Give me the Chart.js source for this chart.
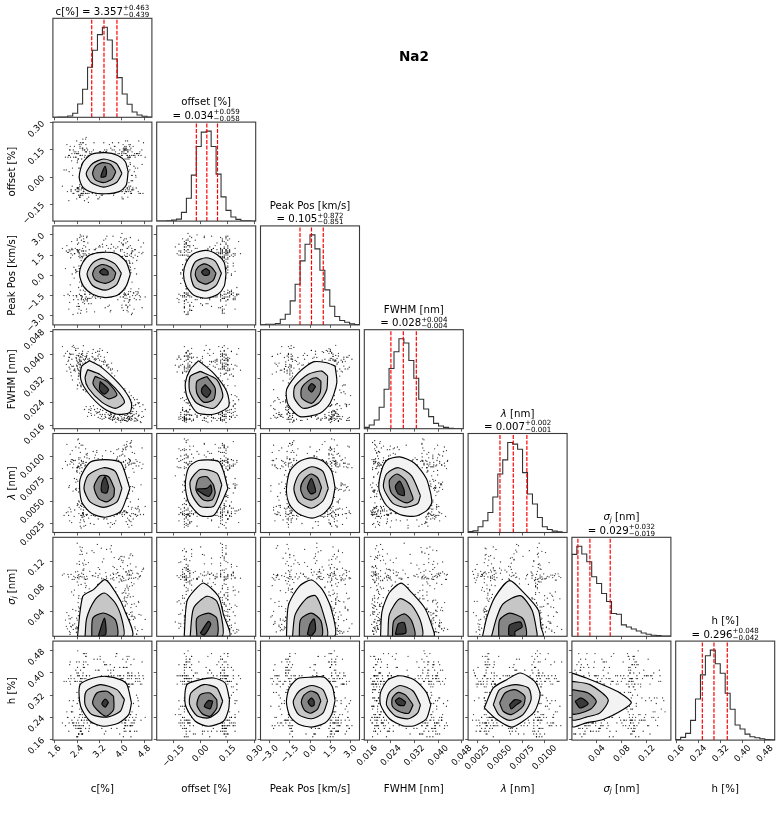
<!DOCTYPE html>
<html>
<head>
<meta charset="utf-8">
<style>
  body { margin: 0; background: #fff; }
  canvas { position: absolute; left: 0; top: 0; }
</style>
<script src="https://cdn.jsdelivr.net/npm/chart.js@4"></script>
</head>
<body>
<script>
// axis limits, ticks
const cRange = [1.53, 5.07], offsetRange = [-0.243, 0.304], peakRange = [-3.67, 3.66];
const fwhmRange = [0.015, 0.0485], lamRange = [0.0015, 0.0125], sigmaRange = [0, 0.1584], hRange = [0.158, 0.515];
const cTicks = [1.6, 2.4, 3.2, 4.0, 4.8], cTickLabels = ['1.6', '2.4', '3.2', '4.0', '4.8'];
const offsetTicks = [-0.15, 0, 0.15, 0.30], offsetTickLabels = ['−0.15', '0.00', '0.15', '0.30'];
const peakTicks = [-3, -1.5, 0, 1.5, 3], peakTickLabels = ['−3.0', '−1.5', '0.0', '1.5', '3.0'];
const fwhmTicks = [0.016, 0.024, 0.032, 0.040, 0.048], fwhmTickLabels = ['0.016', '0.024', '0.032', '0.040', '0.048'];
const lamTicks = [0.0025, 0.005, 0.0075, 0.01], lamTickLabels = ['0.0025', '0.0050', '0.0075', '0.0100'];
const sigmaTicks = [0.04, 0.08, 0.12], sigmaTickLabels = ['0.04', '0.08', '0.12'];
const hTicks = [0.16, 0.24, 0.32, 0.40, 0.48], hTickLabels = ['0.16', '0.24', '0.32', '0.40', '0.48'];

// 20 bin histograms
const cHist = [0, 1, 1, 4, 12, 40, 84, 150, 201, 248, 270, 232, 175, 119, 70, 39, 16, 7, 3, 1];
const offsetHist = [0, 0, 1, 3, 6, 26, 68, 137, 222, 265, 268, 222, 140, 72, 32, 12, 5, 1, 1, 0];
const peakHist = [0, 2, 2, 4, 17, 32, 72, 122, 192, 242, 270, 228, 164, 105, 56, 25, 13, 8, 3, 1];
const fwhmHist = [4, 11, 26, 64, 118, 180, 230, 269, 256, 204, 151, 88, 59, 36, 16, 8, 4, 1, 0, 0];
const lamHist = [3, 5, 17, 35, 60, 106, 175, 217, 269, 264, 249, 179, 115, 85, 45, 17, 9, 4, 2, 0];
const sigmaHist = [245, 269, 246, 223, 178, 158, 128, 104, 68, 66, 34, 28, 22, 16, 10, 6, 3, 2, 1, 1];
const hHist = [2, 8, 20, 59, 123, 195, 252, 269, 228, 200, 140, 92, 45, 33, 18, 10, 7, 4, 2, 1];

// 16/50/84 percent lines
const cQuant = [2.918, 3.357, 3.82], offsetQuant = [-0.024, 0.034, 0.093], peakQuant = [-0.746, 0.105, 0.977];
const fwhmQuant = [0.024, 0.0282, 0.0326], lamQuant = [0.00504, 0.00652, 0.00803];
const sigmaQuant = [0.0096, 0.0288, 0.0613], hQuant = [0.254, 0.296, 0.344];

// titles
const cName = [['c[%]', '']], offsetName = [['offset [%]', '']], peakName = [['Peak Pos [km/s]', '']], fwhmName = [['FWHM [nm]', '']];
const lamName = [['λ', 'italic'], [' [nm]', '']], sigmaName = [['σ', 'italic'], ['j', 'sub'], [' [nm]', '']], hName = [['h [%]', '']];
const cTitle = ['3.357', '+0.463', '−0.439'], offsetTitle = ['0.034', '+0.059', '−0.058'], peakTitle = ['0.105', '+0.872', '−0.851'];
const fwhmTitle = ['0.028', '+0.004', '−0.004'], lamTitle = ['0.007', '+0.002', '−0.001'], sigmaTitle = ['0.029', '+0.032', '−0.019'], hTitle = ['0.296', '+0.048', '−0.042'];

// stray samples outside the contours, one column per parameter
const cSamples = [2.31,4.42,3.05,2.12,3.88,4.61,2.67,3.42,4.18,1.98,3.71,2.44,4.33,3.12,2.58,4.02,2.21,3.55,4.71,2.76,
  2.05,3.94,2.92,4.27,3.36,2.39,4.49,3.18,2.63,4.11,3.61,2.28,4.56,2.84,3.79,2.16,4.24,3.27,2.52,4.38,
  2.71,4.07,3.48,1.87,4.52,3.02,2.47,3.83,4.29,2.34,4.15,2.96,2.19,3.66,4.44,2.55,3.21,4.83,2.41,3.75,
  2.88,4.35,2.26,3.97,3.09,4.64,2.61,3.51,2.07,4.21,3.33,2.49,4.09,4.54,2.79,3.69,2.14,4.31,3.15,2.36,
  4.47,2.69,3.86,2.01,4.13,3.24,2.57,4.68,2.98,3.59,2.43,3.91,4.26,2.82,3.44,2.23,4.58,3.01,4.04,2.65,
  3.77,2.18,4.39,3.29,2.53,4.75,2.89,3.63,2.33,4.17,2.94,4.46,2.72,3.85,2.11,4.23,3.39,2.59,4.62,3.11,
  4.01,2.37,3.53,4.34,2.77,1.93,3.72,4.12,2.46,3.19,2.64,4.28,3.07,2.29,4.51,3.58,2.85,4.19,2.17,3.81,
  3.46,2.56,4.41,2.91,3.99,2.24,4.66,3.23,2.73,4.06,2.09,3.74,4.22,2.62,3.31,4.57,2.42,3.89,3.04,4.36,
  4.48,3.14,2.35,4.03,2.81,3.64,2.15,4.16,2.68,3.52,2.54,4.32,3.41,2.27,4.77,2.97,3.78,2.45,4.25,3.17,
  3.92,2.75,4.08,3.26,2.03,4.43,2.87,3.68,4.59,2.38,2.22,3.57,4.14,2.66,3.84,4.53,3.06,2.51,4.37,2.93,
  4.2,3.37,2.6,4.72,2.3,3.96,2.83,3.49,2.13,4.1,2.48,4.3,3.22,2.74,4.45,3.62,2.2,4.05,3.13,2.9,
  3.82,2.4,4.6,3.0,2.25,4.18,3.7,2.55,4.4,3.3,2.78,4.0,2.35,3.95,4.5,2.62,3.45,4.25,2.1,3.6,
  2.55,4.12,3.35,2.48,4.25,3.05,2.62,4.05,3.6,2.4,4.18,2.7,3.2,4.3,2.52,3.75,4.08,2.6,3.45,2.45,
  2.75,4.2,2.5,3.9,3.1,4.35,2.58,4.02,2.42,3.55,4.1,2.65,3.7,2.47,4.28,3.3,2.56,4.15,2.68,4.0,
  3.15,2.44,4.22,2.72,3.85,4.32,2.5,3.5,4.06,2.6,2.38,4.14,3.0,4.38,2.66,3.65,2.54,4.24,3.25,2.46,
  4.04,2.57,3.8,2.43,4.16,2.74,3.4,4.27,2.51,3.95,2.69,3.6,4.2,2.49,3.12,4.1,2.59,4.34,2.77,3.72,
  4.26,2.41,3.28,4.01,2.63,3.55,4.19,2.53,4.09,2.7,3.02,4.31,2.61,3.88,2.45,4.11,3.38,2.55,4.23,2.8,
  2.5,4.03,3.68,2.73,4.29,2.42,3.18,4.13,2.64,3.82,4.21,2.58,3.42,4.07,2.47,3.78,2.71,4.33,2.52,3.08,
  2.62,3.92,4.17,2.44,3.35,4.25,2.56,3.62,4.05,2.67,3.73,2.49,4.3,2.76,3.22,4.0,2.6,4.2,2.4,3.5,
  2.46,4.15,2.83,3.98,4.36,2.54,3.58,2.68,4.12,3.2,4.08,2.72,3.46,2.39,4.27,3.1,2.59,4.18,3.66,2.5];
const offsetSamples = [.05,-.08,.14,.02,-.11,.09,.17,-.04,.12,.03,-.09,.16,.01,.11,.19,-.06,.07,.13,-.03,-.12,
  .1,-.02,.15,-.1,.18,.06,-.07,.0,.12,.2,-.05,.08,.16,-.13,.04,.13,-.09,.19,.01,-.06,
  .14,.03,-.1,.07,.17,-.04,.11,-.08,.15,.02,-.11,.18,.06,-.02,.13,-.07,.09,.16,-.12,.05,
  .12,-.06,.2,.01,-.09,.15,.04,-.03,.17,-.1,.08,.14,-.07,.11,.0,.19,-.05,.1,-.13,.16,
  -.04,.13,.06,-.11,.18,.03,-.08,.15,.09,-.06,.12,.21,-.02,.07,-.1,.17,.0,-.09,.14,.05,
  -.12,.11,.16,-.05,.08,-.07,.19,.02,.13,-.03,.15,.06,-.1,.18,.04,-.08,.1,.17,-.01,-.11,
  .09,-.06,.14,.22,.01,-.09,.12,.05,-.04,.16,-.12,.07,.19,-.02,.11,.15,-.07,.03,.13,-.1,
  .18,.06,-.05,.1,-.08,.16,.02,.12,-.11,.08,.14,-.03,.2,.05,-.09,.17,-.06,.01,.11,.15,
  -.07,.09,.13,-.12,.04,.18,-.01,-.1,.16,.07,.12,-.05,.03,.19,-.08,.1,.15,-.04,.06,-.14,
  .17,.02,-.09,.14,.08,-.06,.11,.2,-.03,.05,-.11,.16,.01,.13,-.07,.09,.18,-.02,.12,-.1,
  .04,.15,-.08,.1,.19,-.05,.07,.13,-.12,.02,.17,-.04,.11,-.09,.06,.14,.21,-.06,.08,.0,
  -.1,.16,.03,.12,-.07,.18,.05,-.03,.15,-.11,.09,.01,.13,-.08,.17,.06,-.05,.1,.19,-.02,
  .13,-.07,-.08,.12,.03,-.09,.15,.14,-.06,.11,-.05,.14,-.09,.02,.12,-.08,.13,-.07,.15,.04,
  -.08,.11,.14,-.06,-.09,.13,.01,.12,-.07,.15,.12,-.09,.05,.14,-.06,.11,-.08,.13,.04,-.07,
  -.09,.14,.12,-.05,.13,-.08,.0,-.06,.15,.11,.13,-.08,-.07,.12,.03,-.09,.14,.11,-.06,.13,
  -.06,.12,.15,-.08,.02,.14,-.09,.06,.11,-.07,.14,-.05,-.09,.13,.12,-.07,.15,-.08,.01,.11,
  .11,-.09,.13,.04,-.07,.14,-.06,.12,.15,-.08,-.07,.13,.11,-.09,.14,.05,-.08,.12,-.05,.15,
  .14,-.08,-.06,.12,.02,-.09,.13,.11,-.07,.15,-.09,.12,.14,-.06,.03,.11,-.08,.15,.13,-.07,
  .12,.13,-.07,-.09,.15,.04,.11,-.08,-.06,.14,-.08,.11,.02,.14,-.06,-.09,.13,.12,-.07,.05,
  .15,-.06,.12,-.08,.13,.01,-.09,.14,.11,-.07,.12,-.09,.15,.06,-.05,.13,-.08,.11,-.07,.14];
const peakSamples = [1.9,-1.6,.4,2.3,-2.1,.9,-.7,2.7,-1.2,1.5,-2.6,.2,1.8,-1.8,2.4,-.3,1.2,-2.3,.7,2.1,
  -1.1,2.9,-1.9,.5,2.2,-2.5,1.4,-.9,2.6,-1.5,.1,1.7,-2.2,2.5,-.5,1.1,-1.7,3.0,-2.8,.8,
  2.0,-1.3,.3,-2.4,1.6,2.8,-.8,1.3,-2.0,.6,-1.4,2.2,.9,-2.7,1.9,-.2,2.5,-1.6,1.0,-2.1,
  .4,2.7,-1.0,1.6,-2.9,.7,2.1,-1.8,1.3,-.6,2.4,-2.2,.2,1.8,-1.2,2.9,-.4,1.1,-2.5,2.0,
  -1.7,.8,2.6,-2.3,.3,1.5,-1.1,2.3,-.7,1.9,-2.6,1.0,-.1,2.8,-1.5,.6,1.7,-2.0,2.2,-.9,
  1.2,-2.4,.5,2.5,-1.3,2.0,-.6,1.4,-2.8,.9,2.7,-1.9,.1,1.6,-2.2,2.3,-.8,1.1,-1.4,3.1,
  -.4,1.8,-2.7,.7,2.1,-1.0,1.3,-2.3,2.6,.2,-1.6,2.4,-.3,.9,-2.1,1.7,2.9,-1.2,.5,-2.5,
  2.2,-.7,1.5,-1.8,.1,2.8,-2.4,1.0,-1.1,1.9,.6,-2.6,2.5,-.5,1.2,-1.5,2.0,-2.9,.8,1.6,
  -1.9,2.3,.3,-.9,2.7,-2.2,1.4,.7,-1.3,2.1,-2.7,.4,1.8,-.2,2.4,-1.7,1.1,2.6,-2.0,.6,
  1.5,-1.0,2.9,-2.5,.9,1.9,-.6,-1.4,2.2,.2,-2.3,1.3,2.7,-1.1,.5,2.0,-1.8,1.6,-2.8,.8,
  2.5,-.3,1.0,-2.1,1.7,.4,-1.5,2.3,-2.6,1.2,-.8,2.8,.6,-1.9,2.1,-2.4,1.4,.0,2.6,-1.2,
  .7,-2.2,1.9,2.4,-.5,1.1,-2.7,1.6,-1.0,2.2,.3,-1.6,2.9,-2.3,.9,1.5,-.4,2.0,-1.3,.5,
  1.6,-1.3,1.9,-1.5,.2,1.7,-1.4,1.5,-1.7,.5,-1.5,1.8,1.4,-1.2,-1.6,.3,2.0,-1.4,1.6,-1.8,
  1.7,-1.6,.4,1.5,-1.3,1.9,-1.5,-.1,1.8,-1.4,-1.6,.6,1.4,-1.7,1.6,-1.2,2.1,1.5,-.3,-1.5,
  1.8,-1.4,-1.6,2.0,.1,-1.3,1.7,1.5,-1.8,.4,-1.5,1.6,1.9,-1.2,-1.7,1.4,.2,-1.6,1.8,1.5,
  .5,1.7,-1.5,1.4,-1.3,-1.8,1.6,2.0,-1.4,-.2,-1.6,1.9,1.5,-1.4,-1.7,.3,1.8,-1.2,1.6,-1.5,
  1.5,-1.7,.1,1.8,1.4,-1.3,-1.6,2.1,-1.5,.6,1.7,-1.4,-1.8,1.6,.4,1.5,-1.3,1.9,-1.6,-.4,
  -1.4,1.6,1.8,.2,-1.5,1.7,-1.7,-1.3,2.0,1.4,-1.6,.5,1.5,-1.8,1.9,-1.4,1.6,.0,-1.5,1.7,
  1.9,.3,-1.4,1.6,-1.7,-1.5,1.8,.6,1.4,-1.3,1.5,-1.6,2.0,-.2,-1.8,1.7,-1.4,1.6,1.3,-1.5,
  -1.5,1.8,-1.3,1.4,.4,1.9,-1.6,-1.7,1.5,.1,1.7,1.6,-1.4,-1.8,2.1,-1.2,.3,1.5,-1.6,1.8];
const fwhmSamples = [.0352,.0218,.0335,.0391,.0232,.0196,.0318,.0341,.0214,.0405,.0241,.0374,.0262,.0218,.0342,.0198,.0385,.0234,.0188,.0365,
  .0412,.0278,.0358,.0186,.0185,.0362,.0232,.0402,.0281,.0205,.0205,.0348,.0178,.0381,.0289,.0368,.0245,.0192,.0395,.0221,
  .0275,.0252,.0408,.0428,.0208,.0196,.0332,.0182,.0189,.0415,.0265,.0392,.0329,.0352,.0176,.0402,.0421,.0215,.0298,.0203,
  .0212,.0238,.0432,.0191,.0366,.0225,.0282,.0199,.0378,.0184,.0378,.0305,.0178,.0249,.0411,.0226,.0352,.0201,.0188,.0391,
  .0229,.0385,.0182,.0368,.0258,.0395,.0346,.0171,.0228,.0352,.0422,.0211,.0274,.0215,.0205,.0315,.0192,.0385,.0232,.0361,
  .0186,.0402,.0208,.0182,.0378,.0231,.0202,.0372,.0345,.0241,.0405,.0186,.0225,.0265,.0358,.0179,.0198,.0412,.0238,.0362,
  .0178,.0388,.0358,.0235,.0192,.0396,.0195,.0278,.0368,.0412,.0352,.0182,.0208,.0425,.0201,.0182,.0372,.0222,.0341,.0298,
  .0365,.0402,.0255,.0195,.0212,.0361,.0174,.0215,.0394,.0268,.0382,.0329,.0191,.0431,.0212,.0238,.0296,.0178,.0388,.0182,
  .0185,.0396,.0415,.0248,.0205,.0338,.0401,.0176,.0318,.0186,.0292,.0228,.0376,.0362,.0192,.0418,.0172,.0398,.0258,.0205,
  .0258,.0405,.0185,.0362,.0345,.0198,.0225,.0188,.0235,.0382,.0428,.0195,.0268,.0215,.0346,.0182,.0408,.0365,.0192,.0395,
  .0202,.0392,.0358,.0208,.0348,.0172,.0382,.0212,.0405,.0285,.0382,.0215,.0185,.0398,.0248,.0192,.0362,.0181,.0412,.0218,
  .0236,.0378,.0195,.0345,.0402,.0204,.0188,.0338,.0228,.0415,.0385,.0186,.0421,.0262,.0176,.0355,.0212,.0238,.0392,.0199,
  .0378,.0208,.0368,.0345,.0192,.0382,.0335,.0225,.0202,.0285,.0245,.0388,.0208,.0222,.0295,.0198,.0188,.0372,.0365,.0396,
  .0322,.0188,.0391,.0255,.0352,.0202,.0305,.0212,.0352,.0195,.0195,.0358,.0192,.0385,.0232,.0198,.0345,.0262,.0395,.0182,
  .0388,.0328,.0215,.0362,.0188,.0178,.0372,.0355,.0242,.0308,.0365,.0228,.0375,.0195,.0382,.0182,.0298,.0205,.0362,.0348,
  .0205,.0392,.0258,.0318,.0185,.0355,.0192,.0242,.0368,.0178,.0375,.0348,.0198,.0338,.0205,.0232,.0405,.0185,.0342,.0192,
  .0182,.0355,.0378,.0198,.0328,.0185,.0238,.0382,.0178,.0298,.0215,.0248,.0365,.0185,.0338,.0215,.0382,.0312,.0192,.0368,
  .0358,.0255,.0182,.0392,.0202,.0372,.0365,.0178,.0335,.0232,.0228,.0342,.0188,.0205,.0405,.0272,.0352,.0192,.0322,.0385,
  .0385,.0195,.0218,.0348,.0375,.0182,.0362,.0198,.0268,.0332,.0182,.0378,.0235,.0345,.0198,.0212,.0398,.0175,.0362,.0368,
  .0328,.0195,.0388,.0238,.0208,.0352,.0188,.0312,.0252,.0382,.0218,.0372,.0362,.0398,.0186,.0202,.0345,.0228,.0178,.0368];
const lamSamples = [.0042,.0095,.0071,.0108,.0031,.0059,.0102,.0038,.0086,.0048,.0112,.0027,.0066,.0091,.0035,.0105,.0054,.0098,.0029,.0078,
  .0036,.0101,.0062,.0044,.0113,.0082,.0025,.0093,.0052,.0074,.0106,.0033,.0088,.0057,.0099,.0041,.0069,.0022,.0104,.0046,
  .0092,.0056,.0032,.0109,.0075,.0039,.0097,.0063,.0028,.0085,.0049,.0111,.0037,.0079,.0103,.0055,.0026,.0094,.0068,.0034,
  .0107,.0045,.0089,.0024,.0061,.0116,.0043,.0083,.0030,.0100,.0072,.0035,.0110,.0051,.0096,.0040,.0081,.0021,.0065,.0105,
  .0047,.0090,.0033,.0114,.0058,.0101,.0037,.0076,.0026,.0087,.0053,.0108,.0042,.0095,.0029,.0070,.0112,.0036,.0084,.0060,
  .0098,.0031,.0073,.0045,.0106,.0023,.0092,.0056,.0118,.0039,.0080,.0027,.0103,.0064,.0034,.0097,.0050,.0110,.0044,.0077,
  .0030,.0088,.0059,.0102,.0038,.0115,.0067,.0025,.0093,.0048,.0083,.0107,.0035,.0061,.0099,.0043,.0020,.0090,.0054,.0109,
  .0074,.0032,.0096,.0046,.0113,.0057,.0086,.0028,.0104,.0040,.0069,.0094,.0024,.0081,.0052,.0100,.0037,.0117,.0063,.0033,
  .0091,.0047,.0078,.0105,.0029,.0055,.0111,.0041,.0085,.0023,.0098,.0066,.0036,.0108,.0050,.0075,.0031,.0095,.0044,.0089,
  .0026,.0102,.0060,.0034,.0114,.0072,.0042,.0087,.0022,.0097,.0053,.0079,.0106,.0038,.0092,.0028,.0068,.0110,.0045,.0083,
  .0035,.0100,.0056,.0119,.0030,.0076,.0094,.0040,.0107,.0064,.0025,.0088,.0049,.0103,.0033,.0071,.0112,.0037,.0082,.0058,
  .0096,.0027,.0065,.0101,.0043,.0090,.0021,.0077,.0109,.0051,.0039,.0093,.0030,.0084,.0062,.0104,.0046,.0073,.0024,.0098,
  .0040,.0092,.0034,.0067,.0095,.0038,.0089,.0043,.0062,.0094,.0036,.0088,.0091,.0041,.0069,.0033,.0093,.0045,.0086,.0035,
  .0090,.0037,.0064,.0096,.0042,.0087,.0035,.0070,.0092,.0039,.0044,.0095,.0034,.0088,.0061,.0041,.0097,.0036,.0090,.0066,
  .0093,.0039,.0068,.0086,.0033,.0091,.0043,.0035,.0094,.0063,.0037,.0089,.0096,.0040,.0065,.0034,.0092,.0044,.0087,.0071,
  .0088,.0036,.0095,.0042,.0067,.0093,.0034,.0090,.0038,.0060,.0041,.0086,.0035,.0094,.0069,.0039,.0091,.0033,.0097,.0064,
  .0035,.0090,.0062,.0037,.0095,.0043,.0087,.0068,.0034,.0092,.0089,.0040,.0093,.0066,.0036,.0096,.0044,.0088,.0063,.0033,
  .0094,.0038,.0086,.0061,.0034,.0091,.0067,.0042,.0095,.0037,.0065,.0092,.0035,.0089,.0043,.0070,.0093,.0036,.0040,.0087,
  .0037,.0062,.0095,.0041,.0088,.0034,.0092,.0069,.0036,.0090,.0043,.0096,.0064,.0033,.0089,.0038,.0091,.0060,.0094,.0035,
  .0091,.0044,.0036,.0066,.0093,.0087,.0035,.0095,.0041,.0063,.0034,.0090,.0068,.0094,.0039,.0042,.0088,.0061,.0033,.0092];
const sigmaSamples = [.012,.094,.041,.118,.027,.073,.006,.103,.052,.086,.019,.132,.034,.066,.109,.009,.078,.047,.125,.023,
  .097,.015,.061,.141,.038,.084,.004,.112,.056,.029,.091,.017,.069,.122,.044,.003,.101,.032,.081,.137,
  .025,.058,.106,.011,.074,.128,.036,.089,.021,.063,.115,.008,.049,.096,.031,.145,.071,.014,.083,.042,
  .107,.026,.054,.134,.018,.079,.099,.005,.064,.119,.037,.088,.013,.048,.111,.024,.139,.068,.033,.092,
  .01,.076,.124,.045,.098,.02,.059,.108,.028,.149,.082,.007,.053,.116,.035,.072,.127,.016,.093,.04,
  .067,.113,.022,.087,.002,.051,.131,.03,.104,.075,.012,.095,.043,.12,.026,.062,.136,.019,.085,.05,
  .11,.033,.077,.009,.102,.046,.143,.024,.07,.117,.015,.09,.038,.129,.057,.004,.083,.105,.028,.065,
  .121,.041,.011,.097,.055,.133,.021,.08,.039,.112,.006,.06,.1,.029,.147,.073,.017,.086,.047,.126,
  .035,.094,.013,.069,.114,.023,.052,.138,.008,.078,.044,.106,.031,.123,.061,.018,.091,.005,.074,.118,
  .027,.056,.101,.042,.13,.014,.084,.036,.108,.066,.01,.142,.048,.089,.022,.071,.115,.032,.096,.003,
  .058,.125,.037,.082,.016,.103,.045,.135,.025,.07,.11,.007,.063,.092,.03,.128,.054,.019,.087,.04,
  .099,.012,.076,.122,.034,.06,.14,.021,.05,.107,.015,.081,.043,.116,.027,.067,.009,.098,.039,.131,
  .02,.093,.05,.008,.097,.035,.014,.102,.062,.026,.09,.011,.098,.044,.005,.095,.03,.018,.104,.057,
  .012,.092,.024,.099,.039,.007,.094,.016,.106,.048,.021,.096,.009,.055,.1,.028,.013,.093,.033,.101,
  .091,.017,.042,.098,.004,.06,.095,.023,.01,.103,.036,.097,.015,.092,.052,.006,.1,.027,.094,.019,
  .047,.105,.011,.09,.031,.096,.008,.025,.099,.065,.092,.014,.058,.101,.022,.094,.003,.038,.097,.012,
  .029,.091,.045,.016,.103,.007,.095,.034,.02,.098,.054,.01,.093,.041,.096,.018,.1,.026,.005,.092,
  .013,.099,.032,.09,.023,.107,.05,.009,.094,.037,.097,.015,.061,.102,.028,.091,.011,.046,.095,.02,
  .096,.006,.04,.093,.017,.1,.025,.056,.092,.012,.035,.098,.021,.091,.048,.008,.104,.03,.016,.094,
  .009,.101,.027,.014,.09,.043,.097,.019,.052,.093,.095,.024,.007,.099,.033,.092,.013,.06,.096,.039];
const hSamples = [.37,.22,.41,.27,.19,.35,.44,.24,.31,.39,.2,.43,.33,.21,.38,.29,.46,.18,.36,.25,
  .42,.31,.2,.39,.26,.45,.23,.34,.4,.17,.28,.37,.21,.47,.32,.19,.41,.25,.36,.22,
  .4,.18,.33,.44,.24,.38,.2,.29,.43,.27,.35,.21,.46,.3,.19,.39,.26,.42,.23,.34,
  .2,.37,.28,.45,.22,.33,.41,.18,.36,.25,.43,.3,.2,.39,.24,.47,.27,.35,.19,.4,
  .32,.23,.44,.21,.38,.26,.42,.17,.34,.29,.46,.2,.37,.25,.41,.31,.19,.36,.43,.22,
  .28,.45,.2,.35,.24,.4,.18,.33,.48,.26,.21,.38,.3,.44,.19,.36,.23,.42,.27,.34,
  .41,.2,.31,.46,.25,.17,.37,.22,.39,.29,.44,.19,.35,.24,.42,.28,.21,.4,.33,.18,
  .26,.38,.47,.2,.34,.23,.43,.3,.19,.37,.25,.41,.21,.36,.45,.27,.18,.39,.32,.22,
  .35,.42,.2,.29,.44,.24,.38,.19,.33,.46,.26,.21,.4,.31,.18,.37,.43,.23,.35,.28,
  .2,.45,.25,.39,.3,.17,.41,.34,.22,.47,.27,.36,.19,.42,.24,.33,.44,.21,.38,.29,
  .43,.18,.32,.4,.23,.46,.26,.2,.37,.31,.42,.25,.19,.35,.45,.22,.39,.28,.17,.41,
  .3,.44,.21,.36,.26,.19,.43,.33,.23,.38,.2,.47,.29,.4,.24,.35,.18,.42,.27,.37,
  .37,.23,.38,.3,.22,.39,.24,.28,.36,.21,.39,.31,.22,.37,.25,.38,.23,.32,.36,.22,
  .24,.37,.29,.39,.21,.33,.38,.23,.27,.36,.37,.22,.31,.39,.24,.36,.23,.3,.38,.21,
  .38,.25,.36,.22,.32,.24,.39,.28,.21,.37,.23,.38,.26,.37,.22,.31,.36,.24,.39,.29,
  .22,.36,.3,.23,.38,.37,.21,.33,.24,.39,.36,.27,.22,.38,.23,.29,.37,.25,.36,.21,
  .39,.24,.31,.37,.22,.28,.38,.23,.36,.26,.21,.39,.32,.24,.37,.22,.3,.36,.38,.23,
  .25,.38,.22,.36,.29,.39,.24,.37,.21,.33,.37,.23,.28,.39,.22,.36,.31,.24,.38,.21,
  .36,.22,.33,.38,.24,.37,.27,.21,.39,.23,.3,.36,.22,.38,.25,.37,.23,.32,.39,.24,
  .21,.37,.29,.23,.38,.26,.36,.22,.39,.31,.38,.24,.36,.21,.3,.37,.23,.28,.22,.39];

// contour rings, outermost to innermost
const cOffsetRings = [
  [[4.22,.03],[4.12,.085],[3.85,.12],[3.4,.135],[2.9,.125],[2.6,.08],[2.47,0],[2.6,-.055],[2.95,-.085],[3.4,-.092],[3.9,-.08],[4.15,-.045]],
  [[4,.02],[3.8,.075],[3.35,.1],[2.95,.075],[2.72,.02],[2.9,-.03],[3.35,-.055],[3.8,-.03]],
  [[3.78,.03],[3.6,.07],[3.3,.08],[3.05,.06],[2.95,.02],[3.05,-.015],[3.35,-.03],[3.65,-.01]],
  [[3.45,.03],[3.4,.06],[3.3,.03],[3.25,0],[3.42,.005]]];
const cPeakRings = [
  [[4.3,.1],[4.15,1],[3.8,1.6],[3.3,1.7],[2.85,1.5],[2.6,.95],[2.48,.1],[2.62,-.8],[2.95,-1.4],[3.4,-1.65],[3.85,-1.45],[4.15,-.8]],
  [[3.98,.15],[3.75,.85],[3.3,1.25],[2.95,.9],[2.75,.1],[2.95,-.75],[3.4,-1.1],[3.8,-.7]],
  [[3.78,.2],[3.6,.6],[3.3,.8],[3.05,.55],[2.95,.1],[3.05,-.35],[3.4,-.6],[3.7,-.3]],
  [[3.5,.3],[3.35,.5],[3.2,.25],[3.3,.05],[3.5,.05]]];
const cFwhmRings = [
  [[2.84,.038],[3.22,.0361],[3.7,.0321],[4.12,.0276],[4.34,.0236],[4.28,.0205],[3.82,.0199],[3.34,.0219],[2.8,.027],[2.53,.0316],[2.56,.0361]],
  [[2.77,.035],[3.22,.0333],[3.76,.0287],[4.09,.024],[3.76,.0219],[3.28,.024],[2.8,.0287],[2.68,.0321]],
  [[3.04,.0327],[3.46,.031],[3.82,.0265],[3.52,.0251],[3.16,.0276],[2.96,.0304]],
  [[3.22,.031],[3.52,.0282],[3.37,.0267],[3.2,.0282]]];
const cLamRings = [
  [[4.28,.0064],[4.09,.0083],[3.94,.0093],[3.4,.0096],[2.86,.0093],[2.5,.0074],[2.56,.0049],[2.92,.0036],[3.4,.0032],[3.94,.0038],[4.16,.0053]],
  [[4,.0064],[3.76,.0083],[3.34,.0087],[2.8,.0079],[2.64,.0064],[2.86,.0049],[3.34,.0043],[3.82,.0049]],
  [[3.73,.0064],[3.52,.0077],[3.22,.0078],[3,.0066],[3.16,.0053],[3.46,.0049],[3.7,.0055]],
  [[3.52,.0066],[3.4,.0077],[3.28,.007],[3.28,.006],[3.46,.0059]]];
const cSigmaRings = [
  [[2.41,0],[2.6,.064],[2.98,.0747],[3.4,.0907],[3.82,.0667],[4.06,.0453],[4.36,0]],
  [[2.68,0],[2.74,.0293],[3.04,.0587],[3.37,.0693],[3.76,.0533],[4,.0267],[4.04,0]],
  [[2.92,0],[2.96,.0293],[3.34,.0373],[3.76,.0267],[3.82,0]],
  [[3.15,0],[3.37,.029],[3.42,.003]]];
const cHRings = [
  [[4.34,.292],[4.18,.358],[3.94,.376],[3.44,.388],[2.98,.382],[2.5,.358],[2.52,.28],[2.86,.226],[3.34,.208],[3.88,.22],[4.24,.25]],
  [[4.09,.304],[3.82,.34],[3.22,.358],[2.72,.334],[2.68,.286],[2.92,.25],[3.46,.241],[3.94,.262]],
  [[3.7,.316],[3.46,.334],[3.1,.328],[2.95,.292],[3.16,.262],[3.44,.244],[3.7,.268]],
  [[3.52,.294],[3.4,.306],[3.28,.289],[3.4,.277]]];
const offsetPeakRings = [
  [[.14,.1],[.13,.95],[.09,1.55],[.03,1.85],[-.04,1.6],[-.08,.95],[-.095,.1],[-.08,-.8],[-.04,-1.45],[.03,-1.7],[.095,-1.4],[.13,-.8]],
  [[.115,.15],[.08,1.05],[.03,1.3],[-.03,1],[-.055,.1],[-.035,-.85],[.03,-1.15],[.085,-.75]],
  [[.085,.15],[.06,.6],[.02,.85],[-.015,.6],[-.03,.1],[-.015,-.4],[.03,-.65],[.07,-.35]],
  [[.05,.3],[.03,.5],[.005,.25],[.02,0],[.045,.05]]];
const offsetFwhmRings = [
  [[-.012,.038],[.071,.0338],[.144,.0276],[.154,.0225],[.071,.0199],[-.021,.0205],[-.076,.0259],[-.085,.0304],[-.058,.035]],
  [[-.002,.0344],[.089,.0316],[.122,.0259],[.071,.0219],[-.021,.0236],[-.061,.0276],[-.058,.0327]],
  [[.034,.0327],[.08,.0287],[.071,.0248],[.016,.024],[-.021,.027],[-.021,.031]],
  [[.025,.0299],[.056,.0276],[.034,.0256],[.007,.027],[.007,.0287]]];
const offsetLamRings = [
  [[.15,.0064],[.126,.0083],[.098,.0094],[-.012,.0095],[-.067,.0087],[-.085,.0068],[-.067,.0049],[-.002,.0034],[.071,.0034],[.117,.0049]],
  [[.117,.0068],[.089,.0081],[-.002,.0085],[-.058,.0072],[-.048,.0057],[-.002,.0044],[.071,.0044],[.098,.0055]],
  [[.071,.0068],[.034,.0077],[-.012,.0075],[-.026,.0062],[.016,.0051],[.062,.0051],[.08,.0059]],
  [[.056,.0068],[.034,.0064],[-.021,.0063],[.043,.0055],[.062,.0061]]];
const offsetSigmaRings = [
  [[-.091,0],[-.076,.056],[-.03,.075],[.016,.0853],[.098,.064],[.126,.0347],[.159,0]],
  [[-.058,0],[-.039,.0453],[.034,.064],[.089,.056],[.122,.0187],[.117,0]],
  [[-.021,0],[-.021,.029],[.043,.037],[.089,.029],[.089,0]],
  [[-.002,.005],[.043,.024],[.056,.019],[.02,.002]]];
const offsetHRings = [
  [[.159,.304],[.135,.364],[.071,.382],[-.002,.376],[-.076,.358],[-.085,.286],[-.03,.226],[.043,.208],[.126,.226],[.154,.268]],
  [[.122,.298],[.089,.346],[.016,.358],[-.054,.328],[-.061,.286],[-.021,.246],[.043,.238],[.098,.262]],
  [[.089,.304],[.052,.328],[-.002,.322],[-.021,.286],[.007,.254],[.052,.244],[.089,.274]],
  [[.067,.298],[.043,.301],[.02,.28],[.052,.271]]];
const peakFwhmRings = [
  [[1.85,.0362],[1.98,.0305],[1.48,.0236],[.74,.0202],[-.75,.0191],[-1.62,.0231],[-1.74,.0282],[-.87,.0339],[.24,.0376],[1.23,.0373]],
  [[1.3,.0328],[1.23,.0282],[.61,.0236],[-.5,.0219],[-1.17,.0254],[-1.12,.0294],[-.13,.0334],[.86,.0345]],
  [[.81,.0311],[.74,.0271],[.12,.0236],[-.62,.0254],[-.62,.0288],[0,.0316],[.49,.0322]],
  [[.41,.0293],[.12,.0303],[-.13,.0286],[.12,.0274]]];
const peakLamRings = [
  [[1.85,.0065],[1.6,.0083],[1,.0094],[.1,.0098],[-.8,.0094],[-1.5,.0083],[-1.75,.0063],[-1.55,.0047],[-.9,.0036],[.15,.0031],[1,.0036],[1.6,.0047]],
  [[1.35,.0064],[.95,.0083],[.1,.0088],[-.8,.008],[-1.2,.0064],[-.85,.0049],[.1,.0042],[.95,.005]],
  [[.85,.0065],[.55,.0076],[.05,.008],[-.45,.0074],[-.7,.0064],[-.45,.0054],[.1,.0051],[.6,.0055]],
  [[.35,.0066],[.1,.0075],[-.2,.0065],[.05,.0058],[.4,.006]]];
const peakSigmaRings = [
  [[-1.75,0],[-1.6,.05],[-.8,.08],[.1,.09],[.9,.075],[1.55,.045],[1.8,0]],
  [[-1.3,0],[-1.1,.035],[-.3,.06],[.4,.065],[1,.035],[1.25,0]],
  [[-.8,0],[-.7,.027],[.1,.037],[.8,.025],[.85,0]],
  [[-.2,.003],[0,.02],[.3,.028],[.4,.01],[.1,.001]]];
const peakHRings = [
  [[1.85,.3],[1.65,.35],[1.05,.385],[.1,.385],[-.9,.38],[-1.55,.345],[-1.75,.295],[-1.5,.245],[-.85,.215],[.1,.205],[1.1,.22],[1.6,.25]],
  [[1.3,.3],[.95,.34],[.1,.355],[-.8,.335],[-1.25,.295],[-.85,.25],[.1,.235],[.95,.255]],
  [[.8,.3],[.55,.325],[.05,.335],[-.45,.32],[-.65,.295],[-.4,.265],[.05,.255],[.55,.27]],
  [[.3,.3],[.1,.31],[-.15,.296],[.1,.28],[.3,.285]]];
const fwhmLamRings = [
  [[.0375,.0058],[.036,.0075],[.032,.0092],[.027,.0099],[.0225,.0095],[.0205,.008],[.02,.0062],[.0225,.0045],[.027,.0035],[.032,.0033],[.036,.0039],[.0378,.0048]],
  [[.034,.0056],[.031,.0078],[.0265,.0087],[.0225,.008],[.0215,.0065],[.0245,.0048],[.0285,.0043],[.033,.0047]],
  [[.031,.0058],[.029,.0073],[.026,.008],[.0235,.0073],[.024,.006],[.0265,.0052],[.0295,.0048],[.0315,.0052]],
  [[.0285,.0062],[.027,.0072],[.0255,.0066],[.0265,.0058],[.0285,.0056]]];
const fwhmSigmaRings = [
  [[.0205,0],[.021,.04],[.0235,.07],[.0275,.085],[.031,.07],[.0355,.045],[.038,.015],[.0385,0]],
  [[.023,0],[.0235,.035],[.027,.06],[.031,.05],[.034,.025],[.0345,0]],
  [[.0245,0],[.025,.025],[.0285,.036],[.031,.025],[.032,0]],
  [[.0255,.003],[.0265,.02],[.0285,.022],[.029,.005]]];
const fwhmHRings = [
  [[.0375,.285],[.036,.33],[.032,.375],[.027,.39],[.023,.375],[.0205,.33],[.0205,.285],[.0235,.235],[.028,.21],[.032,.21],[.036,.235]],
  [[.034,.285],[.0315,.335],[.027,.355],[.0235,.33],[.0225,.285],[.0255,.245],[.03,.235],[.033,.255]],
  [[.0315,.285],[.029,.32],[.0265,.33],[.0245,.31],[.0245,.28],[.027,.26],[.03,.255]],
  [[.029,.295],[.027,.31],[.0255,.3],[.0265,.285],[.0285,.283]]];
const lamSigmaRings = [
  [[.0031,0],[.0036,.031],[.0045,.063],[.0061,.089],[.0076,.071],[.0093,.042],[.0096,.015],[.0098,0]],
  [[.0041,0],[.0047,.031],[.0054,.052],[.0073,.065],[.0086,.042],[.0091,.01],[.0091,0]],
  [[.0049,0],[.005,.026],[.0061,.037],[.0076,.028],[.0079,0]],
  [[.006,.002],[.0061,.018],[.0073,.023],[.0075,.015],[.0067,.007],[.0067,0]]];
const lamHRings = [
  [[.0033,.274],[.0043,.346],[.0058,.376],[.0073,.4],[.0089,.37],[.0095,.322],[.0089,.262],[.0076,.226],[.0063,.205],[.0047,.232]],
  [[.0043,.286],[.005,.34],[.0067,.358],[.0082,.346],[.0085,.304],[.0076,.25],[.0061,.229],[.0049,.25]],
  [[.005,.292],[.0056,.328],[.0067,.34],[.0078,.316],[.0076,.28],[.0063,.25],[.0054,.262]],
  [[.0061,.286],[.0067,.304],[.0074,.298],[.0069,.286],[.0063,.27]]];
const sigmaHRings = [
  [[0,.4],[.023,.382],[.055,.352],[.077,.328],[.095,.294],[.082,.268],[.05,.232],[.023,.22],[0,.208]],
  [[0,.37],[.029,.358],[.058,.304],[.045,.256],[.023,.241],[0,.232]],
  [[0,.34],[.026,.328],[.039,.298],[.029,.268],[0,.253]],
  [[.005,.298],[.015,.31],[.026,.289],[.013,.274]]];

const ringRows = [
  [cOffsetRings],
  [cPeakRings, offsetPeakRings],
  [cFwhmRings, offsetFwhmRings, peakFwhmRings],
  [cLamRings, offsetLamRings, peakLamRings, fwhmLamRings],
  [cSigmaRings, offsetSigmaRings, peakSigmaRings, fwhmSigmaRings, lamSigmaRings],
  [cHRings, offsetHRings, peakHRings, fwhmHRings, lamHRings, sigmaHRings]
];

const params = [
  { range: cRange, ticks: cTicks, labels: cTickLabels, hist: cHist, quant: cQuant, name: cName, title: cTitle, samples: cSamples },
  { range: offsetRange, ticks: offsetTicks, labels: offsetTickLabels, hist: offsetHist, quant: offsetQuant, name: offsetName, title: offsetTitle, samples: offsetSamples },
  { range: peakRange, ticks: peakTicks, labels: peakTickLabels, hist: peakHist, quant: peakQuant, name: peakName, title: peakTitle, samples: peakSamples },
  { range: fwhmRange, ticks: fwhmTicks, labels: fwhmTickLabels, hist: fwhmHist, quant: fwhmQuant, name: fwhmName, title: fwhmTitle, samples: fwhmSamples },
  { range: lamRange, ticks: lamTicks, labels: lamTickLabels, hist: lamHist, quant: lamQuant, name: lamName, title: lamTitle, samples: lamSamples },
  { range: sigmaRange, ticks: sigmaTicks, labels: sigmaTickLabels, hist: sigmaHist, quant: sigmaQuant, name: sigmaName, title: sigmaTitle, samples: sigmaSamples },
  { range: hRange, ticks: hTicks, labels: hTickLabels, hist: hHist, quant: hQuant, name: hName, title: hTitle, samples: hSamples }
];

const W = 781, H = 813, SIZE = 99, STEP = 103.8, LEFT = 52.9, TOP = 18.3;
const FONT = '"DejaVu Sans"';
const ringFills = ['#f3f3f3', '#c6c6c6', '#858585', '#3a3a3a'];
// y column is read 240 rows further on, the c / FWHM panel stays row for row
const PAIR_SHIFT = 240;

function fontFor(style, size) {
  return (style === 'italic' || style === 'sub' ? 'italic ' : '') + size + 'px ' + FONT;
}

// text made of mixed runs, centred on cx
function runsWidth(ctx, runs, size) {
  let w = 0;
  runs.forEach(([text, style]) => {
    ctx.font = fontFor(style, style === 'sub' ? size * 0.7 : size);
    w += ctx.measureText(text).width;
  });
  return w;
}

function drawRuns(ctx, runs, x, y, size) {
  runs.forEach(([text, style]) => {
    const s = style === 'sub' ? size * 0.7 : size;
    ctx.font = fontFor(style, s);
    ctx.fillText(text, x, style === 'sub' ? y + 2 : y);
    x += ctx.measureText(text).width;
  });
  return x;
}

function drawTitle(ctx, p, idx, cx, top) {
  const size = 10.2;
  ctx.fillStyle = '#000';
  ctx.textAlign = 'left';
  ctx.textBaseline = 'alphabetic';
  const y2 = top - 3.5;
  let main;
  if (idx === 0) {
    main = [[p.name[0][0] + ' = ' + p.title[0], '']];
  } else {
    const w1 = runsWidth(ctx, p.name, size);
    drawRuns(ctx, p.name, cx - w1 / 2, top - 17, size);
    main = [['= ' + p.title[0], '']];
  }
  const mw = runsWidth(ctx, main, size);
  ctx.font = '7.1px ' + FONT;
  const sw = Math.max(ctx.measureText(p.title[1]).width, ctx.measureText(p.title[2]).width);
  const x0 = cx - (mw + sw) / 2;
  const x1 = drawRuns(ctx, main, x0, y2, size);
  ctx.font = '7.1px ' + FONT;
  ctx.fillText(p.title[1], x1, y2 - 4.6);
  ctx.fillText(p.title[2], x1, y2 + 2);
}

function drawXTickLabels(ctx, scale, labels, bottom) {
  ctx.font = '8.7px ' + FONT;
  ctx.fillStyle = '#000';
  ctx.textAlign = 'center';
  ctx.textBaseline = 'middle';
  scale.ticks.forEach((tick, i) => {
    const w = ctx.measureText(labels[i]).width;
    const box = (w + 6.4) * Math.SQRT1_2;
    ctx.save();
    ctx.translate(scale.getPixelForValue(tick.value), bottom + 4.5 + box / 2);
    ctx.rotate(-Math.PI / 4);
    ctx.fillText(labels[i], 0, 0);
    ctx.restore();
  });
}

function drawYTickLabels(ctx, scale, labels, left) {
  ctx.font = '8.7px ' + FONT;
  ctx.fillStyle = '#000';
  ctx.textAlign = 'center';
  ctx.textBaseline = 'middle';
  scale.ticks.forEach((tick, i) => {
    const w = ctx.measureText(labels[i]).width;
    const box = (w + 6.4) * Math.SQRT1_2;
    ctx.save();
    ctx.translate(left - 7.3 - box / 2, scale.getPixelForValue(tick.value) + box / 2 - 2.5);
    ctx.rotate(-Math.PI / 4);
    ctx.fillText(labels[i], 0, 0);
    ctx.restore();
  });
}

function panelText(col, row) {
  return {
    id: 'panelText',
    afterDraw(chart) {
      const ctx = chart.ctx;
      const a = chart.chartArea;
      ctx.save();
      ctx.strokeStyle = '#3a3a3a';
      ctx.lineWidth = 1.1;
      ctx.strokeRect(a.left, a.top, a.right - a.left, a.bottom - a.top);
      if (row === 6) {
        drawXTickLabels(ctx, chart.scales.x, params[col].labels, a.bottom);
        ctx.fillStyle = '#000';
        ctx.textAlign = 'left';
        ctx.textBaseline = 'middle';
        const w = runsWidth(ctx, params[col].name, 10.2);
        drawRuns(ctx, params[col].name, (a.left + a.right) / 2 - w / 2, 789, 10.2);
      }
      if (col === 0 && row > 0) {
        drawYTickLabels(ctx, chart.scales.y, params[row].labels, a.left);
        ctx.fillStyle = '#000';
        ctx.textAlign = 'left';
        ctx.textBaseline = 'middle';
        const w = runsWidth(ctx, params[row].name, 10.2);
        ctx.translate(12, (a.top + a.bottom) / 2);
        ctx.rotate(-Math.PI / 2);
        drawRuns(ctx, params[row].name, -w / 2, 0, 10.2);
      }
      ctx.restore();
      if (col === row) {
        ctx.save();
        drawTitle(ctx, params[col], col, (a.left + a.right) / 2, a.top);
        ctx.restore();
      }
      if (col === 0 && row === 0) {
        ctx.save();
        ctx.font = 'bold 13.6px ' + FONT;
        ctx.fillStyle = '#000';
        ctx.textAlign = 'center';
        ctx.textBaseline = 'middle';
        ctx.fillText('Na2', 414, 57);
        ctx.restore();
      }
    }
  };
}

function axis(limits, ticks, visible) {
  return {
    type: 'linear',
    display: visible,
    min: limits[0],
    max: limits[1],
    afterBuildTicks: (s) => { s.ticks = ticks.map((v) => ({ value: v })); },
    afterFit: (s) => { if (s.isHorizontal()) s.height = 0; else s.width = 0; },
    border: { display: false },
    grid: { display: true, drawOnChartArea: false, drawTicks: true, tickLength: 3, tickColor: '#333', tickWidth: 0.8 },
    ticks: { display: false }
  };
}

function histDatasets(p) {
  const [lo, hi] = p.range;
  const peak = Math.max(...p.hist) * 1.1;
  const steps = [{ x: lo, y: 0 }];
  p.hist.forEach((v, k) => steps.push({ x: lo + (hi - lo) * k / p.hist.length, y: v }));
  steps.push({ x: hi, y: p.hist[p.hist.length - 1] });
  const sets = p.quant.map((q) => ({
    data: [{ x: q, y: 0 }, { x: q, y: peak }],
    showLine: true, pointRadius: 0, borderColor: '#ff0000', borderWidth: 1.2, borderDash: [4, 1.5]
  }));
  sets.push({ data: steps, showLine: true, stepped: 'before', pointRadius: 0, borderColor: '#333', borderWidth: 1.1 });
  return { sets, peak };
}

function pairDatasets(col, row) {
  const rings = ringRows[row - 1][col];
  const xs = params[col].samples;
  const ys = params[row].samples;
  const shift = col === 0 && row === 3 ? 0 : PAIR_SHIFT;
  const sets = [];
  // first dataset is drawn on top, so innermost ring goes first
  for (let r = rings.length - 1; r >= 0; r--) {
    const closed = rings[r].concat([rings[r][0]]);
    sets.push({
      data: closed.map(([x, y]) => ({ x, y })),
      showLine: true, pointRadius: 0, tension: 0.25,
      borderColor: '#000', borderWidth: 1.15,
      backgroundColor: ringFills[r], fill: 'shape'
    });
  }
  sets.push({
    data: xs.map((x, k) => ({ x, y: ys[(k + shift) % ys.length] })),
    showLine: false, pointRadius: 0.65, pointBorderWidth: 0,
    pointBackgroundColor: 'rgba(0,0,0,0.8)'
  });
  return sets;
}

for (let row = 0; row < params.length; row++) {
  for (let col = 0; col <= row; col++) {
    const canvas = document.createElement('canvas');
    canvas.width = W;
    canvas.height = H;
    document.body.appendChild(canvas);

    const left = LEFT + STEP * col;
    const top = TOP + STEP * row;
    const isHist = col === row;
    let datasets, yScale;
    if (isHist) {
      const h = histDatasets(params[col]);
      datasets = h.sets;
      yScale = axis([0, h.peak], [], false);
    } else {
      datasets = pairDatasets(col, row);
      yScale = axis(params[row].range, params[row].ticks, true);
    }

    new Chart(canvas, {
      type: 'scatter',
      data: { datasets },
      options: {
        responsive: false,
        animation: false,
        events: [],
        layout: { padding: { left, top, right: W - left - SIZE, bottom: H - top - SIZE } },
        plugins: { legend: { display: false }, tooltip: { enabled: false }, title: { display: false } },
        scales: { x: axis(params[col].range, params[col].ticks, true), y: yScale }
      },
      plugins: [panelText(col, row)]
    });
  }
}
</script>
</body>
</html>
